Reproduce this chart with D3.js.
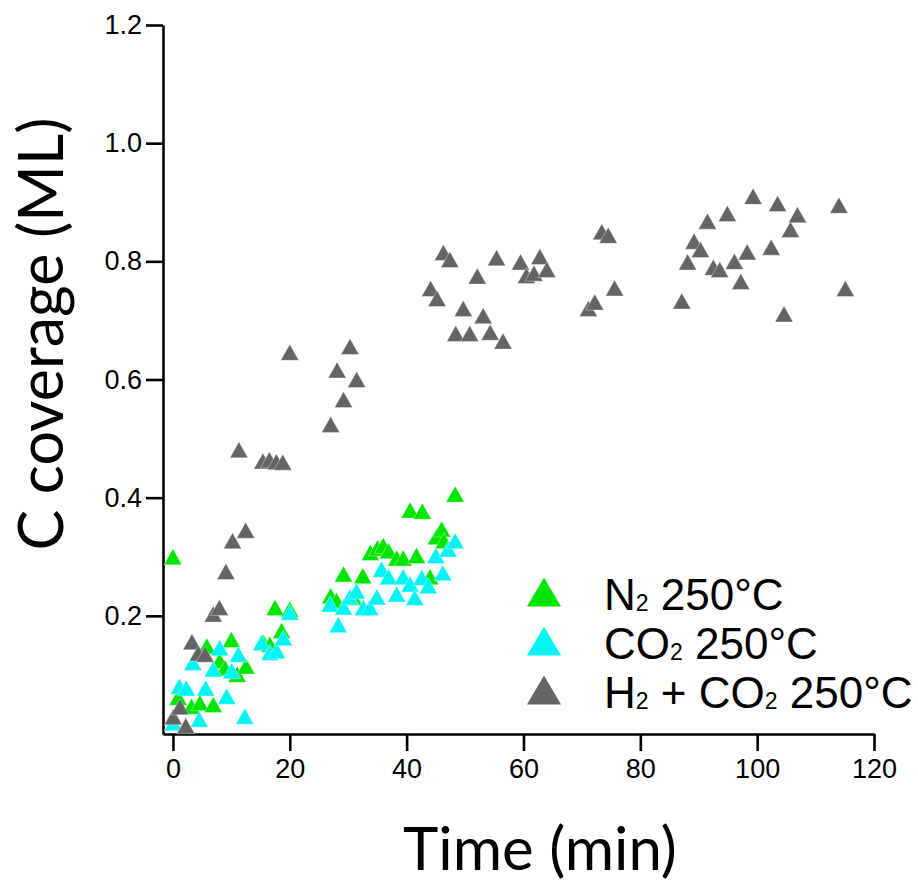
<!DOCTYPE html>
<html><head><meta charset="utf-8">
<script src="https://cdn.jsdelivr.net/npm/d3@7"></script>
<style>
html,body{margin:0;padding:0;background:#fff;}
svg{display:block;}
</style>
</head><body>
<svg id="chart" width="918" height="883"></svg>
<script>
// ---- data ----
const xTicks = [0, 20, 40, 60, 80, 100, 120];
const yTicks = [0.2, 0.4, 0.6, 0.8, 1.0, 1.2];
const seriesNames = ["N2 250°C", "CO2 250°C", "H2 + CO2 250°C"];
const seriesColors = ["#00e600", "#00f5f5", "#646464"];

const n2Time = [0.0, 0.9, 3.2, 4.6, 5.8, 6.9, 8.0, 8.9, 10.0, 11.0, 12.5, 15.5, 16.6, 17.5, 18.6, 20.0,
  27.0, 28.0, 29.2, 30.9, 32.5, 33.8, 35.0, 36.0, 36.9, 38.3, 39.4, 40.6, 41.7, 42.7, 44.0, 45.1, 46.0, 46.4, 48.3];
const n2Cov = [0.300, 0.062, 0.047, 0.053, 0.149, 0.050, 0.124, 0.112, 0.160, 0.101, 0.115, 0.155, 0.152, 0.214, 0.175, 0.211,
  0.234, 0.226, 0.271, 0.231, 0.268, 0.307, 0.315, 0.319, 0.310, 0.298, 0.298, 0.379, 0.302, 0.377, 0.266, 0.334, 0.347, 0.327, 0.406];

const co2Time = [0.05, 1.1, 2.3, 3.4, 4.5, 5.6, 6.9, 8.0, 9.2, 10.05, 11.2, 12.3, 15.2, 16.6, 17.75, 18.9, 20.0,
  26.9, 28.3, 29.2, 30.3, 31.4, 32.6, 33.7, 34.9, 35.7, 36.9, 38.3, 39.4, 40.6, 41.4, 42.6, 43.7, 45.0, 46.2, 47.1, 48.3];
const co2Cov = [0.019, 0.081, 0.078, 0.121, 0.025, 0.078, 0.110, 0.146, 0.064, 0.107, 0.135, 0.030, 0.155, 0.138, 0.141, 0.163, 0.206,
  0.220, 0.185, 0.215, 0.232, 0.242, 0.214, 0.214, 0.232, 0.279, 0.266, 0.237, 0.266, 0.254, 0.231, 0.265, 0.251, 0.302, 0.273, 0.313, 0.327];

const h2co2Time = [0.05, 1.2, 2.2, 3.25, 4.35, 5.5, 6.9, 7.95, 9.07, 10.2, 12.45, 11.3, 15.4, 16.5, 17.7, 18.8, 20.0,
  27.0, 28.1, 29.2, 30.3, 31.45, 44.1, 45.2, 46.3, 47.4, 48.4, 49.7, 50.8, 52.1, 53.1, 54.3, 55.4, 56.5,
  59.5, 60.5, 61.8, 62.8, 64.0, 71.1, 72.2, 73.4, 74.5, 75.6, 87.1, 88.1, 89.2, 90.3, 91.5, 92.5, 93.6,
  94.9, 96.1, 97.2, 98.3, 99.3, 102.4, 103.5, 104.6, 105.7, 106.9, 114.0, 115.1];
const h2co2Cov = [0.029, 0.046, 0.014, 0.156, 0.137, 0.135, 0.203, 0.214, 0.275, 0.327, 0.345, 0.481, 0.462, 0.464, 0.461, 0.460, 0.646,
  0.524, 0.616, 0.566, 0.656, 0.600, 0.754, 0.737, 0.815, 0.803, 0.678, 0.720, 0.678, 0.775, 0.708, 0.680, 0.806, 0.665,
  0.799, 0.776, 0.780, 0.808, 0.786, 0.720, 0.731, 0.850, 0.844, 0.755, 0.733, 0.799, 0.834, 0.820, 0.868, 0.790, 0.786,
  0.881, 0.800, 0.766, 0.816, 0.910, 0.824, 0.898, 0.711, 0.854, 0.879, 0.895, 0.754];

const seriesData = [
  n2Time.map((t, i) => ({t, v: n2Cov[i]})),
  co2Time.map((t, i) => ({t, v: co2Cov[i]})),
  h2co2Time.map((t, i) => ({t, v: h2co2Cov[i]}))
];

// ---- layout ----
const svg = d3.select("#chart");
const x = d3.scaleLinear().domain([-1.7, 120]).range([163, 874]);
const y = d3.scaleLinear().domain([0, 1.2]).range([734, 25]);

const tickFont = "'Liberation Sans', Arial, sans-serif";

// axes
const xAxis = svg.append("g").attr("transform", "translate(0,734)")
  .call(d3.axisBottom(x).tickValues(xTicks).tickSize(17).tickSizeOuter(0).tickPadding(8).tickFormat(d3.format("d")));
const yAxis = svg.append("g").attr("transform", "translate(163,0)")
  .call(d3.axisLeft(y).tickValues(yTicks).tickSize(17).tickSizeOuter(0).tickPadding(4).tickFormat(d3.format(".1f")));

[xAxis, yAxis].forEach(g => {
  g.select(".domain").attr("stroke", "#000").attr("stroke-width", 2.6);
  g.selectAll(".tick line").attr("stroke", "#000").attr("stroke-width", 2.6);
  g.selectAll(".tick text").attr("fill", "#000").style("font-family", tickFont).style("font-size", "27px");
});

// triangle marker with bbox centred on the point
function tri(w, h) {
  return `M0,${-h/2}L${w/2},${h/2}L${-w/2},${h/2}Z`;
}

// points
seriesData.forEach((pts, si) => {
  svg.append("g").selectAll("path").data(pts).enter().append("path")
    .attr("d", tri(18, 16))
    .attr("transform", d => `translate(${x(d.t)},${y(d.v)})`)
    .attr("fill", seriesColors[si])
    .attr("stroke", "#fff").attr("stroke-width", 0.6).attr("stroke-opacity", 0.6);
});

// legend
const legend = svg.append("g");
const legBase = [610, 659, 708];
const legParts = [
  [["N", false], ["2", true], [" 250°C", false]],
  [["CO", false], ["2", true], [" 250°C", false]],
  [["H", false], ["2", true], [" + CO", false], ["2", true], [" 250°C", false]]
];
seriesNames.forEach((name, i) => {
  legend.append("path").attr("d", tri(34, 29))
    .attr("transform", `translate(544,${legBase[i] - 18})`)
    .attr("fill", seriesColors[i]);
  const txt = legend.append("text").attr("x", 604).attr("y", legBase[i])
    .style("font-family", tickFont).style("font-size", "44px").attr("fill", "#000");
  legParts[i].forEach(([s, sub], k) => {
    const prevSub = k > 0 && legParts[i][k-1][1];
    const ts = txt.append("tspan").text(s).attr("dy", sub ? 1 : (prevSub ? -1 : 0));
    if (sub) ts.style("font-size", "23px");
  });
});

// axis titles
const titleFont = "Lato, 'Open Sans', sans-serif";
svg.append("text").attr("x", 540).attr("y", 870).attr("text-anchor", "middle")
  .style("font-family", titleFont).style("font-size", "60px").attr("fill", "#000").text("Time (min)");
svg.append("text").attr("transform", "translate(63,334) rotate(-90)").attr("text-anchor", "middle")
  .style("font-family", titleFont).style("font-size", "61px").attr("fill", "#000").text("C coverage (ML)");
</script>
</body></html>
